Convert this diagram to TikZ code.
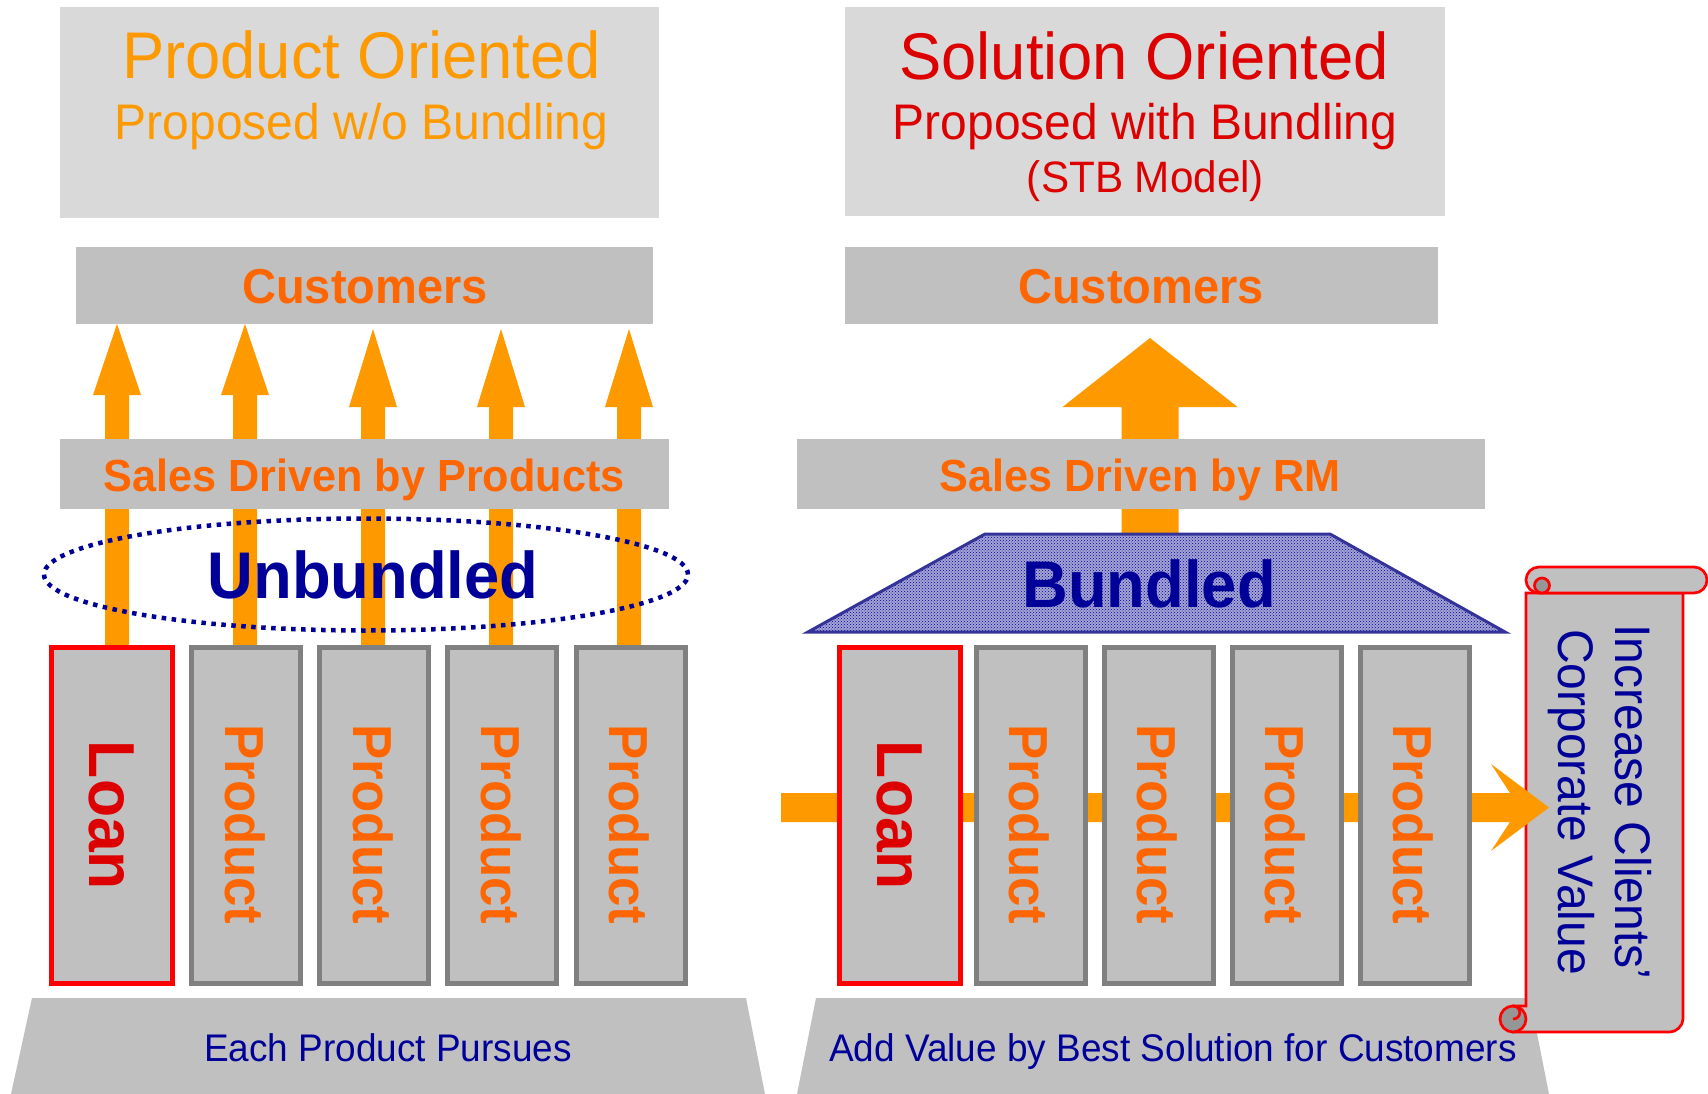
\documentclass[tikz,border=0pt]{standalone}
\usepackage{fontspec}
\setmainfont{Liberation Sans}[FakeStretch=0.96]
\usetikzlibrary{calc,shapes.geometric,patterns}
\pgfdeclarelayer{under}
\pgfsetlayers{under,main}

\definecolor{arrowor}{HTML}{FF9900}
\definecolor{textor}{HTML}{FF6600}
\definecolor{deepred}{HTML}{DD0000}
\definecolor{brightred}{HTML}{FF0000}
\definecolor{navy}{HTML}{000099}
\definecolor{barfill}{HTML}{C0C0C0}
\definecolor{headfill}{HTML}{D9D9D9}
\definecolor{boxline}{HTML}{808080}
\definecolor{roofline}{HTML}{333399}
\definecolor{rooffill}{HTML}{A4A4D4}
\definecolor{curlfill}{HTML}{969696}

\newcommand{\fsz}[1]{\fontsize{#1}{#1}\selectfont}

\begin{document}
\begin{tikzpicture}[x=1pt,y=-1pt,
  headbox/.style={fill=headfill, inner sep=0pt, outer sep=0pt},
  bar/.style={fill=barfill, inner sep=0pt, outer sep=0pt},
  prodbox/.style={draw=boxline, fill=barfill, line width=5pt, inner sep=0pt, outer sep=0pt,
                  minimum width=109pt, minimum height=336pt},
  loanbox/.style={prodbox, draw=brightred, minimum width=121pt},
  prodtext/.style={rotate=-90, text=textor, font={\bfseries\fsz{55}}, inner sep=0pt},
  loantext/.style={rotate=-90, text=deepred, font={\bfseries\fsz{65}}, inner sep=0pt},
  bartext/.style={text=textor, font={\bfseries\fsz{49}}, anchor=base, inner sep=0pt},
  salestext/.style={text=textor, font={\bfseries\fsz{45}}, anchor=base, inner sep=0pt},
  basetext/.style={text=navy, font={\fsz{38.5}}, anchor=base, inner sep=0pt},
  bigtitle/.style={font={\fsz{66}}, anchor=base, inner sep=0pt},
  subtitle/.style={font={\fsz{50}}, anchor=base, inner sep=0pt},
  groupword/.style={text=navy, font={\bfseries\fsz{66}}, anchor=base, inner sep=0pt},
  scrollline/.style={draw=brightred, line width=2.7pt},
]
\useasboundingbox (0,0) rectangle (1708,1094);

% ---------- header panels ----------
\node[headbox, minimum width=599pt, minimum height=211pt] (hdl) at (359.5,112.5) {};
\node[headbox, minimum width=600pt, minimum height=209pt] (hdr) at (1145,111.5) {};
\node[bigtitle, text=arrowor] (tpo) at (361.5,79) {Product Oriented};
\node[subtitle, text=arrowor] (tpw) at (361.5,140) {Proposed w/o Bundling};
\node[bigtitle, text=deepred] (tso) at (1144,80) {Solution Oriented};
\node[subtitle, text=deepred] (tsw) at (1145,140) {Proposed with Bundling};
\node[font={\fsz{44}}, anchor=base, inner sep=0pt, text=deepred] (tstb) at (1145.5,193) {(STB Model)};

% ---------- customers ----------
\node[bar, minimum width=577pt, minimum height=77pt] (cust1) at (364.5,285.5) {};
\node[bar, minimum width=593pt, minimum height=77pt] (cust2) at (1141.5,285.5) {};
\node[bartext] (cust1t) at (365,303) {Customers};
\node[bartext] (cust2t) at (1141,303) {Customers};

% ---------- product columns ----------
\node[loanbox] (lo1) at (112.25,815.5) {};
\node[prodbox] (pa1) at (246,815.5) {};
\node[prodbox] (pb1) at (374,815.5) {};
\node[prodbox] (pc1) at (502,815.5) {};
\node[prodbox] (pd1) at (630.5,815.5) {};
\node[loanbox] (lo2) at (900,815.5) {};
\node[prodbox] (pa2) at (1030.5,815.5) {};
\node[prodbox] (pb2) at (1158.5,815.5) {};
\node[prodbox] (pc2) at (1286.5,815.5) {};
\node[prodbox] (pd2) at (1414.5,815.5) {};

\node[loantext] (lo1t) at (112,815.5) {Loan};
\node[prodtext] (pa1t) at (245,824.5) {Product};
\node[prodtext] (pb1t) at (373,824.5) {Product};
\node[prodtext] (pc1t) at (501,824.5) {Product};
\node[prodtext] (pd1t) at (629.5,824.5) {Product};
\node[loantext] (lo2t) at (900,815.5) {Loan};
\node[prodtext] (pa2t) at (1029,824.5) {Product};
\node[prodtext] (pb2t) at (1157,824.5) {Product};
\node[prodtext] (pc2t) at (1285,824.5) {Product};
\node[prodtext] (pd2t) at (1413,824.5) {Product};

% ---------- sales bars ----------
\node[bar, minimum width=609pt, minimum height=70pt] (sales1) at (364.5,474) {};
\node[bar, minimum width=688pt, minimum height=70pt] (sales2) at (1141,474) {};
\node[salestext] (sales1t) at (364,491) {Sales Driven by Products};
\node[salestext] (sales2t) at (1140,491) {Sales Driven by RM};

% ---------- unbundled ring ----------
\node[ellipse, draw=navy, line width=4.5pt, dash pattern=on 4.5pt off 5.5pt,
      minimum width=644pt, minimum height=112pt, inner sep=0pt] (ring) at (366,574.5) {};
\node[groupword] (unb) at (373,598) {Unbundled};

% ---------- bundled roof ----------
\coordinate (rooftop) at (1150,534);
\path[fill=rooffill] (808,632) -- (985,534) -- (1330,534) -- (1505,632) -- cycle;
\path[pattern=crosshatch dots, pattern color=navy] (808,632) -- (985,534) -- (1330,534) -- (1505,632) -- cycle;
\draw[roofline, line width=3pt, line join=miter] (808,632) -- (985,534) -- (1330,534) -- (1505,632) -- cycle;
\node[groupword] (bund) at (1149,607) {Bundled};

% ---------- bases ----------
\begin{pgfonlayer}{under}
\fill[barfill] (32,998) -- (746,998) -- (765,1094) -- (11,1094) -- cycle;
\fill[barfill] (816,998) -- (1530,998) -- (1549,1094) -- (797,1094) -- cycle;
\end{pgfonlayer}
\node[basetext] (base1) at (388,1061) {Each Product Pursues};
\node[basetext] (base2) at (1173,1061) {Add Value by Best Solution for Customers};

% ---------- scroll ----------
\begin{pgfonlayer}{under}
\filldraw[scrollline, fill=barfill] (1526,593) -- (1683,593) -- (1683,1019)
   .. controls (1683,1026) and (1676,1032) .. (1670,1032) -- (1513,1032) -- (1513,1006) -- (1526,1006) -- cycle;
\filldraw[scrollline, fill=barfill, rounded corners=13pt] (1526,567) rectangle (1707,593);
\filldraw[scrollline, fill=curlfill] (1542,585.5) circle[radius=7.5];
\filldraw[scrollline, fill=curlfill] (1513,1019) circle[radius=13];
\draw[scrollline] (1513,1006) .. controls (1522,1006) and (1522,1019) .. (1513,1019);
\coordinate (flowin) at (781,807.5);
\coordinate (flowout) at (1549,807.5);
\end{pgfonlayer}
\node[rotate=-90, align=center, text=navy, font={\fontsize{50}{57}\selectfont}, inner sep=0pt]
  (goal) at (1600,802) {Increase Clients’\\Corporate Value};

% ---------- orange flow arrows ----------
\begin{pgfonlayer}{under}
\foreach \b/\dx/\g/\h in {lo1/4.75/0/71, pa1/-1/0/71, pb1/-1/5/78, pc1/-1/5/78, pd1/-1.5/5/78}{
  \path ($(\b.north)+(\dx,0)$) coordinate (s) ($(cust1.south -| \b.north)+(\dx,0)$) coordinate (t);
  \fill[arrowor] ($(s)+(-12,0)$) -- ($(t)+(-12,\g+\h)$) -- ($(t)+(-24,\g+\h)$) -- ($(t)+(0,\g)$)
     -- ($(t)+(24,\g+\h)$) -- ($(t)+(12,\g+\h)$) -- ($(s)+(12,0)$) -- cycle;
}
\path (cust2.south -| rooftop) coordinate (rt);
\fill[arrowor] ($(rooftop)+(-28.5,0)$) -- ($(rt)+(-28.5,83)$) -- ($(rt)+(-87.5,83)$) -- ($(rt)+(0,14)$)
   -- ($(rt)+(87.5,83)$) -- ($(rt)+(28.5,83)$) -- ($(rooftop)+(28.5,0)$) -- cycle;
\fill[arrowor] ($(flowin)+(0,-14.5)$) -- ($(flowout)+(-39,-14.5)$) -- ($(flowout)+(-58,-43.5)$) -- (flowout)
   -- ($(flowout)+(-58,43.5)$) -- ($(flowout)+(-39,14.5)$) -- ($(flowin)+(0,14.5)$) -- cycle;
\end{pgfonlayer}
\end{tikzpicture}
\end{document}
